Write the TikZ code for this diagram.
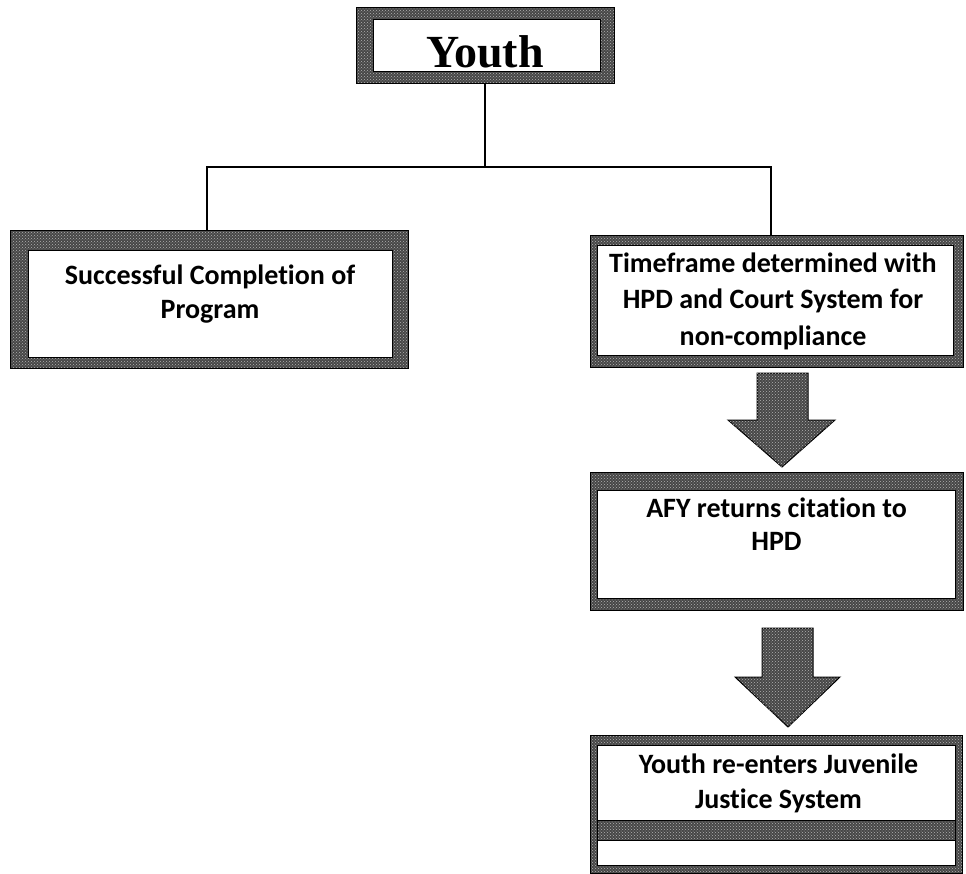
\documentclass[tikz,border=0pt]{standalone}
\usepackage{fontspec}
\setmainfont{Carlito}[Ligatures=NoCommon]
\newfontfamily\youthfont{Liberation Serif}
\usetikzlibrary{patterns,calc}
\tikzset{
  boxshape/.style={rectangle, inner sep=0pt, outer sep=0pt, minimum width=#1},
  bandfill/.style={fill=black!72},
  bandpat/.style={pattern=crosshatch dots, pattern color=white!70!black},
  bandline/.style={draw=black, line width=1pt},
  txt/.style={inner sep=0pt, align=center, anchor=north, font=\bfseries},
  conn/.style={draw=black, line width=1.3pt},
}
\newcommand{\bandbox}[5]{%
  \fill[bandfill] (#1.north west) rectangle (#1.south east);
  \fill[bandpat] (#1.north west) rectangle (#1.south east);
  \draw[bandline] (#1.north west) rectangle (#1.south east);
  \fill[white] ([shift={(#2,#3)}]#1.north west) rectangle ([shift={(-#4,-#5)}]#1.south east);
  \draw[bandline] ([shift={(#2,#3)}]#1.north west) rectangle ([shift={(-#4,-#5)}]#1.south east);
}
\begin{document}
\begin{tikzpicture}[x=1pt,y=-1pt]
\useasboundingbox (0,0) rectangle (966,873);
% box shapes
\node[boxshape=258pt, minimum height=76pt] (youth) at (485,45) {};
\node[boxshape=398pt, minimum height=138pt] (done) at (209,299) {};
\node[boxshape=373pt, minimum height=132pt] (tf) at (776.5,301) {};
\node[boxshape=373pt, minimum height=138pt] (afy) at (776.5,541) {};
\node[boxshape=372pt, minimum height=138pt] (reenter) at (776,804) {};
% bands
\bandbox{youth}{17}{12}{14}{12}
\bandbox{done}{18}{20}{16}{11}
\bandbox{tf}{7}{10}{10}{12}
\bandbox{afy}{7}{18}{8}{12}
\bandbox{reenter}{7}{10}{7}{8}
\fill[white] ([shift={(7,85)}]reenter.north west) rectangle ([shift={(-7,105)}]reenter.north east);
\fill[bandfill] ([shift={(7,85)}]reenter.north west) rectangle ([shift={(-7,105)}]reenter.north east);
\fill[bandpat] ([shift={(7,85)}]reenter.north west) rectangle ([shift={(-7,105)}]reenter.north east);
\draw[bandline] ([shift={(7,85)}]reenter.north west) rectangle ([shift={(-7,105)}]reenter.north east);
% texts
\node[inner sep=0pt, anchor=base, font=\youthfont\bfseries\fontsize{46}{50}\selectfont] (youthT) at (485,67) {Youth};
\node[txt, font=\bfseries\fontsize{28}{34}\selectfont] (doneT) at (210,260)
  {\strut Successful Completion of\\\strut Program};
\node[txt, font=\bfseries\fontsize{28}{36.5}\selectfont] (tfT) at (773,246.5)
  {\strut Timeframe determined with\\\strut HPD and Court System for\\\strut non-compliance};
\node[txt, font=\bfseries\fontsize{28}{33}\selectfont] (afyT) at (776.5,493.9)
  {\strut AFY returns citation to\\\strut HPD};
\node[txt, font=\bfseries\fontsize{28}{35}\selectfont] (reenterT) at (778.5,748.5)
  {\strut Youth re-enters Juvenile\\\strut Justice System};
% tree connectors
\coordinate (j) at ($(youth.south)+(0,84)$);
\draw[conn] (youth.south) -- (j);
\draw[conn] ([xshift=-2pt]done.north) |- (j) -| ([xshift=-5.5pt]tf.north);
% block arrows
\path[bandfill, bandline]
  ($(tf.south)+(-19.5,6)$) -- ++(51,0) -- ++(0,47) -- ++(27,0)
  -- ($(afy.north)+(5.5,-5)$) -- ($(tf.south)+(-48.5,53)$) -- ++(29,0) -- cycle;
\fill[bandpat]
  ($(tf.south)+(-19.5,6)$) -- ++(51,0) -- ++(0,47) -- ++(27,0)
  -- ($(afy.north)+(5.5,-5)$) -- ($(tf.south)+(-48.5,53)$) -- ++(29,0) -- cycle;
\path[bandfill, bandline]
  ($(afy.south)+(-14.5,18)$) -- ++(51,0) -- ++(0,49) -- ++(27,0)
  -- ($(reenter.north)+(12,-8)$) -- ($(afy.south)+(-41.5,67)$) -- ++(27,0) -- cycle;
\fill[bandpat]
  ($(afy.south)+(-14.5,18)$) -- ++(51,0) -- ++(0,49) -- ++(27,0)
  -- ($(reenter.north)+(12,-8)$) -- ($(afy.south)+(-41.5,67)$) -- ++(27,0) -- cycle;
\end{tikzpicture}
\end{document}
